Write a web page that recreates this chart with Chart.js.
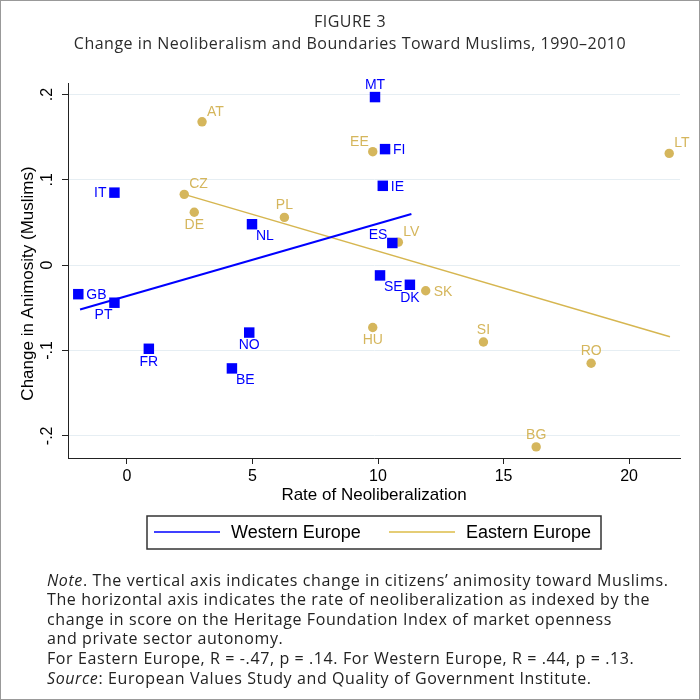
<!DOCTYPE html>
<html>
<head>
<meta charset="utf-8">
<script src="https://cdn.jsdelivr.net/npm/chart.js@4.4.1/dist/chart.umd.min.js"></script>
<style>
  html, body { margin: 0; padding: 0; background: #fff; }
  #wrap { width: 700px; height: 700px; }
</style>
</head>
<body>
<div id="wrap"><canvas id="myChart" width="700" height="700"></canvas></div>
<script>
// Western Europe (blue squares)
const westLabels = ["MT", "FI", "IE", "IT", "NL", "ES", "SE", "DK", "GB", "PT", "FR", "NO", "BE"];
const westX = [9.88, 10.28, 10.19, -0.5, 4.98, 10.57, 10.08, 11.27, -1.94, -0.5, 0.87, 4.87, 4.18];
const westY = [0.197, 0.136, 0.093, 0.085, 0.048, 0.026, -0.012, -0.023, -0.034, -0.044, -0.098, -0.079, -0.121];

// Eastern Europe (gold circles)
const eastLabels = ["AT", "EE", "LT", "CZ", "DE", "PL", "LV", "SK", "HU", "SI", "RO", "BG"];
const eastX = [2.99, 9.79, 21.6, 2.28, 2.68, 6.27, 10.81, 11.9, 9.79, 14.2, 18.49, 16.3];
const eastY = [0.168, 0.133, 0.131, 0.083, 0.062, 0.056, 0.027, -0.030, -0.073, -0.090, -0.115, -0.213];

// fitted lines (end points)
const westFitX = [-1.87, 11.33];
const westFitY = [-0.052, 0.060];
const eastFitX = [2.28, 21.63];
const eastFitY = [0.083, -0.084];

// tick labels
const xTicks = [0, 5, 10, 15, 20];
const yTicks = [0.2, 0.1, 0, -0.1, -0.2];
const yTickText = [".2", ".1", "0", "-.1", "-.2"];

// label clock positions (like stata mlabposition)
const westPos = [12, 3, 3, 9, 4, 10, 4, 6, 3, 7, 6, 6, 4];
const eastPos = [1, 11, 1, 1, 6, 12, 1, 3, 6, 12, 12, 12];

const BLUE = "#0000ff";
const GOLD = "#d5b65c";
const AXIS_FONT = "'Liberation Sans', Arial, sans-serif";
const NOTE_FONT = "'Open Sans', sans-serif";

function toPoints(xs, ys) {
  return xs.map(function (x, i) {
    return { x: x, y: ys[i] };
  });
}

// where the label goes relative to its marker
const posOffsets = {
  1: { align: "left", dx: 5, dy: -10 },
  3: { align: "left", dx: 8, dy: 1 },
  4: { align: "left", dx: 4, dy: 12 },
  6: { align: "center", dx: 0, dy: 13 },
  7: { align: "right", dx: -2, dy: 12 },
  9: { align: "right", dx: -8, dy: 0 },
  10: { align: "right", dx: -5, dy: -8 },
  11: { align: "right", dx: -4, dy: -10 },
  12: { align: "center", dx: 0, dy: -12 },
};

const pointLabels = {
  id: "pointLabels",
  afterDatasetsDraw(chart) {
    const ctx = chart.ctx;
    const sets = [
      { index: 0, labels: westLabels, pos: westPos, color: BLUE },
      { index: 1, labels: eastLabels, pos: eastPos, color: GOLD },
    ];
    ctx.save();
    ctx.font = "14px " + AXIS_FONT;
    ctx.textBaseline = "middle";
    sets.forEach(function (s) {
      const meta = chart.getDatasetMeta(s.index);
      ctx.fillStyle = s.color;
      meta.data.forEach(function (pt, i) {
        const o = posOffsets[s.pos[i]];
        ctx.textAlign = o.align;
        ctx.fillText(s.labels[i], pt.x + o.dx, pt.y + o.dy);
      });
    });
    ctx.restore();
  },
};

// y tick labels are vertical in the original, chart.js can't rotate them
const yTickLabels = {
  id: "yTickLabels",
  afterDraw(chart) {
    const ctx = chart.ctx;
    const y = chart.scales.y;
    ctx.save();
    ctx.font = "16px " + AXIS_FONT;
    ctx.fillStyle = "#000";
    ctx.textAlign = "center";
    ctx.textBaseline = "middle";
    yTicks.forEach(function (v, i) {
      ctx.save();
      ctx.translate(48, y.getPixelForValue(v));
      ctx.rotate(-Math.PI / 2);
      ctx.fillText(yTickText[i], 0, 0);
      ctx.restore();
    });
    // axis title
    ctx.save();
    ctx.font = "17px " + AXIS_FONT;
    ctx.translate(28, (chart.chartArea.top + chart.chartArea.bottom) / 2 + 13);
    ctx.rotate(-Math.PI / 2);
    ctx.fillText("Change in Animosity (Muslims)", 0, 0);
    ctx.restore();
    ctx.restore();
  },
};

// heading, boxed legend, notes and outer border
const figureText = {
  id: "figureText",
  afterDraw(chart) {
    const ctx = chart.ctx;
    ctx.save();

    // heading
    ctx.fillStyle = "#2b2b2b";
    ctx.textAlign = "center";
    ctx.textBaseline = "middle";
    ctx.font = "16px " + NOTE_FONT;
    ctx.letterSpacing = "0.5px";
    ctx.fillText("FIGURE 3", 350, 22);
    ctx.fillText("Change in Neoliberalism and Boundaries Toward Muslims, 1990\u20132010", 350, 44);
    ctx.letterSpacing = "0px";

    // legend box
    ctx.strokeStyle = "#333";
    ctx.lineWidth = 1.5;
    ctx.strokeRect(147, 516, 454, 33);
    const items = [
      { color: BLUE, text: "Western Europe", x: 154 },
      { color: "#dcbc48", text: "Eastern Europe", x: 389 },
    ];
    ctx.font = "18px " + AXIS_FONT;
    ctx.textAlign = "left";
    items.forEach(function (it) {
      ctx.strokeStyle = it.color;
      ctx.lineWidth = 1.5;
      ctx.beginPath();
      ctx.moveTo(it.x, 532);
      ctx.lineTo(it.x + 66, 532);
      ctx.stroke();
      ctx.fillStyle = "#000";
      ctx.fillText(it.text, it.x + 77, 533);
    });

    // notes
    const lines = [
      [["Note", true], [". The vertical axis indicates change in citizens\u2019 animosity toward Muslims.", false]],
      [["The horizontal axis indicates the rate of neoliberalization as indexed by the", false]],
      [["change in score on the Heritage Foundation Index of market openness", false]],
      [["and private sector autonomy.", false]],
      [["For Eastern Europe, R = -.47, p = .14. For Western Europe, R = .44, p = .13.", false]],
      [["Source", true], [": European Values Study and Quality of Government Institute.", false]],
    ];
    ctx.fillStyle = "#222";
    ctx.letterSpacing = "0.6px";
    lines.forEach(function (parts, i) {
      let x = 47;
      const y = 581 + i * 19.6;
      parts.forEach(function (p) {
        ctx.font = (p[1] ? "italic " : "") + "16px " + NOTE_FONT;
        ctx.fillText(p[0], x, y);
        x += ctx.measureText(p[0]).width;
      });
    });
    ctx.letterSpacing = "0px";

    // thin frame round the figure
    ctx.strokeStyle = "#999";
    ctx.lineWidth = 1;
    ctx.strokeRect(0.5, 0.5, 699, 699);
    ctx.restore();
  },
};

const ctx = document.getElementById("myChart");

const myChart = new Chart(ctx, {
  type: "scatter",
  data: {
    datasets: [
      {
        label: "Western Europe",
        data: toPoints(westX, westY),
        pointStyle: "rect",
        pointRadius: 7.4,
        backgroundColor: BLUE,
        borderWidth: 0,
      },
      {
        label: "Eastern Europe",
        data: toPoints(eastX, eastY),
        pointStyle: "circle",
        pointRadius: 4.7,
        backgroundColor: GOLD,
        borderWidth: 0,
      },
      {
        type: "line",
        data: toPoints(westFitX, westFitY),
        borderColor: BLUE,
        borderWidth: 2,
        pointRadius: 0,
      },
      {
        type: "line",
        data: toPoints(eastFitX, eastFitY),
        borderColor: "#d6b650",
        borderWidth: 1.5,
        pointRadius: 0,
      },
    ],
  },
  options: {
    responsive: false,
    maintainAspectRatio: false,
    animation: false,
    layout: {
      padding: { left: 0, right: 20, top: 83, bottom: 194 },
    },
    scales: {
      x: {
        type: "linear",
        min: -2.35,
        max: 22.03,
        afterBuildTicks: function (scale) {
          scale.ticks = xTicks.map(function (v) { return { value: v }; });
        },
        afterFit: function (scale) {
          scale.height = 48;
        },
        border: { color: "#222", width: 1 },
        grid: {
          drawOnChartArea: false,
          tickLength: 6,
          tickColor: "#222",
        },
        ticks: {
          color: "#000",
          padding: 3,
          maxRotation: 0,
          font: { family: AXIS_FONT, size: 16 },
        },
        title: {
          display: true,
          text: "Rate of Neoliberalization",
          color: "#000",
          padding: 0,
          font: { family: AXIS_FONT, size: 17 },
        },
      },
      y: {
        type: "linear",
        min: -0.226,
        max: 0.2135,
        afterBuildTicks: function (scale) {
          scale.ticks = yTicks.map(function (v) { return { value: v }; });
        },
        afterFit: function (scale) {
          scale.width = 68;
        },
        border: { color: "#222", width: 1 },
        grid: {
          color: "#e6eef3",
          tickColor: "#222",
          tickLength: 6,
        },
        ticks: { display: false },
      },
    },
    plugins: {
      legend: { display: false },
      tooltip: { enabled: false },
      title: { display: false },
    },
  },
  plugins: [pointLabels, yTickLabels, figureText],
});
</script>
</body>
</html>
